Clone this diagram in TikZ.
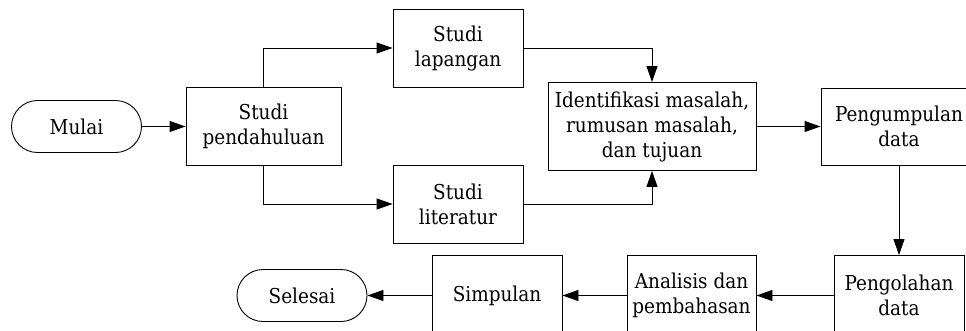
\documentclass[tikz,border=0pt]{standalone}
\usepackage{fontspec}
\setmainfont{DejaVu Serif Condensed}
\usetikzlibrary{arrows.meta}
\begin{document}
\begin{tikzpicture}[x=1pt,y=-1pt,
  every node/.style={font=\fontsize{20.5}{25}\selectfont, align=center, inner sep=0pt},
  box/.style={draw, line width=0.9pt, minimum width=#1, minimum height=78pt},
  term/.style={draw, line width=0.9pt, rounded corners=26pt, minimum width=130pt, minimum height=52pt},
  conn/.style={line width=0.9pt, -{Triangle[length=16pt,width=11pt]}}]
\useasboundingbox (0,0) rectangle (966,330);
\clip (0,0) rectangle (966,330);
\node[term] (mulai) at (76.5,126.5) {Mulai};
\node[box=155pt] (sp) at (263.5,126.5) {Studi\\pendahuluan};
\node[box=130pt] (sl) at (458,48) {Studi\\lapangan};
\node[box=130pt] (slit) at (458,204) {Studi\\literatur};
\node[box=208pt, minimum height=88pt] (id) at (652,126.5) {Identifikasi masalah,\\rumusan masalah,\\dan tujuan};
\node[box=156pt, minimum height=77pt] (pk) at (899,126.5) {Pengumpulan\\data};
\node[box=130pt, minimum height=80pt] (po) at (899,295.5) {Pengolahan\\data};
\node[box=129pt, minimum height=80pt] (an) at (691.5,295.5) {Analisis dan\\pembahasan};
\node[box=130pt, minimum height=80pt] (sim) at (497,295.5) {Simpulan};
\node[term] (sel) at (302,295.5) {Selesai};
\draw[conn] (mulai.east) -- (sp.west);
\draw[conn] (sp.north) |- (sl.west);
\draw[conn] (sp.south) |- (slit.west);
\draw[conn] (sl.east) -| (id.north);
\draw[conn] (slit.east) -| (id.south);
\draw[conn] (id.east) -- (pk.west);
\draw[conn] (pk.south) -- (po.north);
\draw[conn] (po.west) -- (an.east);
\draw[conn] (an.west) -- (sim.east);
\draw[conn] (sim.west) -- (sel.east);
\end{tikzpicture}
\end{document}
